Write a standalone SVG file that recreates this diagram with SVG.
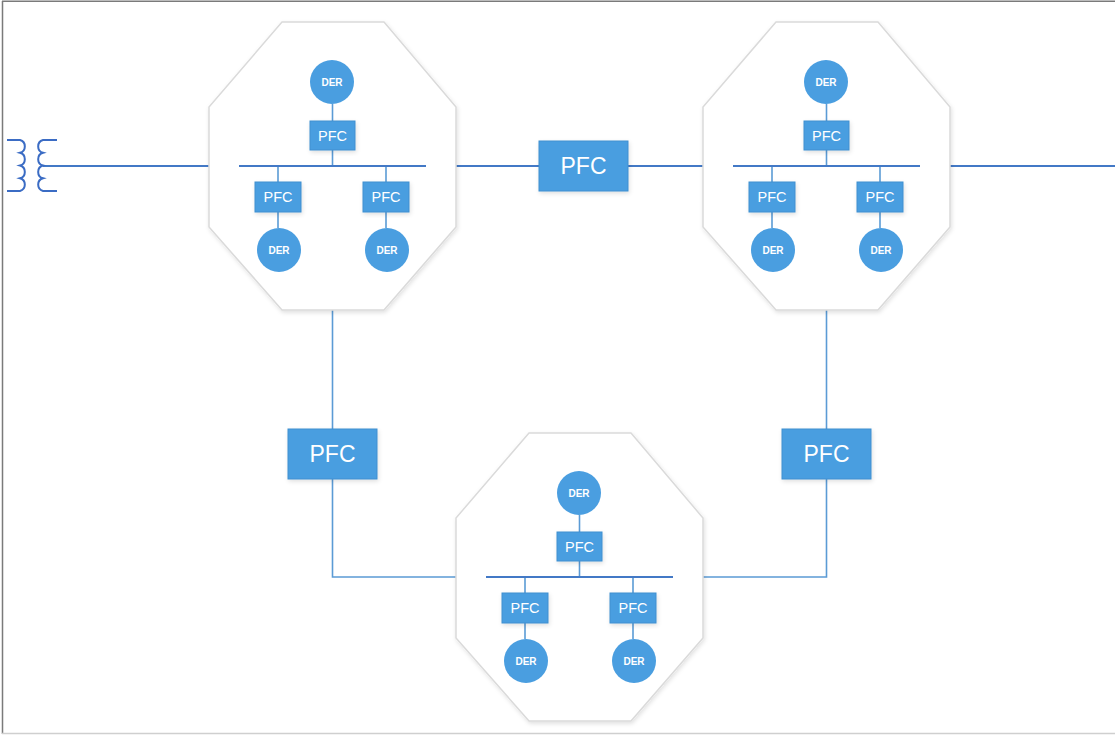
<svg xmlns="http://www.w3.org/2000/svg" width="1115" height="735" viewBox="0 0 1115 735">
<defs>
<style>
.oct{fill:#ffffff;stroke:#dadada;stroke-width:1.5}
.box{fill:#4a9ee0;stroke:#3f8fd0;stroke-width:1}
.der{fill:#4a9ee0}
.ln{stroke:#5b9bd5;stroke-width:1.6;fill:none}
.main{stroke:#4379c6;stroke-width:1.8;fill:none}
.bus{stroke:#4379c6;stroke-width:1.8;fill:none}
.tx{fill:#ffffff;font-family:"Liberation Sans",Arial,sans-serif;text-anchor:middle;dominant-baseline:central}
.t-big{font-size:23px}
.t-sm{font-size:14.5px}
.t-der{font-size:10px;font-weight:bold}
.coil{stroke:#3b6cc4;stroke-width:2;fill:none}
</style>
<filter id="sh" x="-10%" y="-10%" width="130%" height="130%">
<feDropShadow dx="1" dy="2" stdDeviation="2" flood-color="#000" flood-opacity="0.12"/>
</filter>
<g id="cell">
<polygon class="oct" filter="url(#sh)" points="73,0 175,0 247,85 247,205 175,288 73,288 0,205 0,85"/>
<line class="ln" x1="123.5" y1="82" x2="123.5" y2="99"/>
<line class="ln" x1="123.5" y1="128" x2="123.5" y2="144"/>
<line class="ln" x1="69" y1="144" x2="69" y2="160"/>
<line class="ln" x1="177" y1="144" x2="177" y2="160"/>
<line class="ln" x1="69" y1="190" x2="69" y2="206"/>
<line class="ln" x1="177" y1="190" x2="177" y2="206"/>
<line class="bus" x1="30" y1="144" x2="217" y2="144"/>
<circle class="der" cx="123" cy="60" r="22"/>
<text class="tx t-der" x="123" y="60">DER</text>
<rect class="box" filter="url(#sh)" x="101" y="99" width="45" height="29"/>
<text class="tx t-sm" x="123.5" y="113.5">PFC</text>
<rect class="box" filter="url(#sh)" x="46" y="160" width="46" height="30"/>
<text class="tx t-sm" x="69" y="175">PFC</text>
<rect class="box" filter="url(#sh)" x="154" y="160" width="46" height="30"/>
<text class="tx t-sm" x="177" y="175">PFC</text>
<circle class="der" cx="70" cy="228" r="22"/>
<text class="tx t-der" x="70" y="228">DER</text>
<circle class="der" cx="178" cy="228" r="22"/>
<text class="tx t-der" x="178" y="228">DER</text>
</g>
</defs>
<rect x="0" y="0" width="1115" height="735" fill="#ffffff"/>
<line x1="2.5" y1="1" x2="2.5" y2="734" stroke="#7a7a7a" stroke-width="1.5"/>
<line x1="2" y1="1.2" x2="1115" y2="1.2" stroke="#7a7a7a" stroke-width="1.5"/>
<line x1="2" y1="733.5" x2="1115" y2="733.5" stroke="#cfcfcf" stroke-width="1.5"/>

<g id="connectors">
<line class="main" x1="43" y1="166" x2="209" y2="166"/>
<line class="main" x1="456" y1="166" x2="539" y2="166"/>
<line class="main" x1="628" y1="166" x2="703" y2="166"/>
<line class="main" x1="950" y1="166" x2="1115" y2="166"/>
<polyline class="ln" points="332.5,310 332.5,430"/>
<polyline class="ln" points="332.5,479 332.5,577 456,577"/>
<polyline class="ln" points="826.5,310 826.5,430"/>
<polyline class="ln" points="826.5,479 826.5,577 703,577"/>
</g>

<g id="transformer">
<path class="coil" d="M7,140 H20 A6.5,6.6 0 0 1 20,152.75 A6.5,6.6 0 0 1 20,165.5 A6.5,6.6 0 0 1 20,178.25 A6.5,6.6 0 0 1 20,191 H7"/>
<path class="coil" d="M57,140 H43 A6.5,6.6 0 0 0 43,152.75 A6.5,6.6 0 0 0 43,165.5 A6.5,6.6 0 0 0 43,178.25 A6.5,6.6 0 0 0 43,191 H57"/>
</g>

<g id="cell1"><use href="#cell" x="209" y="22"/></g>
<g id="cell2"><use href="#cell" x="703" y="22"/></g>
<g id="cell3"><use href="#cell" x="456" y="433"/></g>

<g id="pfc-top">
<rect class="box" filter="url(#sh)" x="539" y="141" width="89" height="50"/>
<text class="tx t-big" x="583.5" y="166">PFC</text>
</g>
<g id="pfc-left">
<rect class="box" filter="url(#sh)" x="288" y="429" width="89" height="50"/>
<text class="tx t-big" x="332.5" y="454">PFC</text>
</g>
<g id="pfc-right">
<rect class="box" filter="url(#sh)" x="782" y="429" width="89" height="50"/>
<text class="tx t-big" x="826.5" y="454">PFC</text>
</g>
</svg>
